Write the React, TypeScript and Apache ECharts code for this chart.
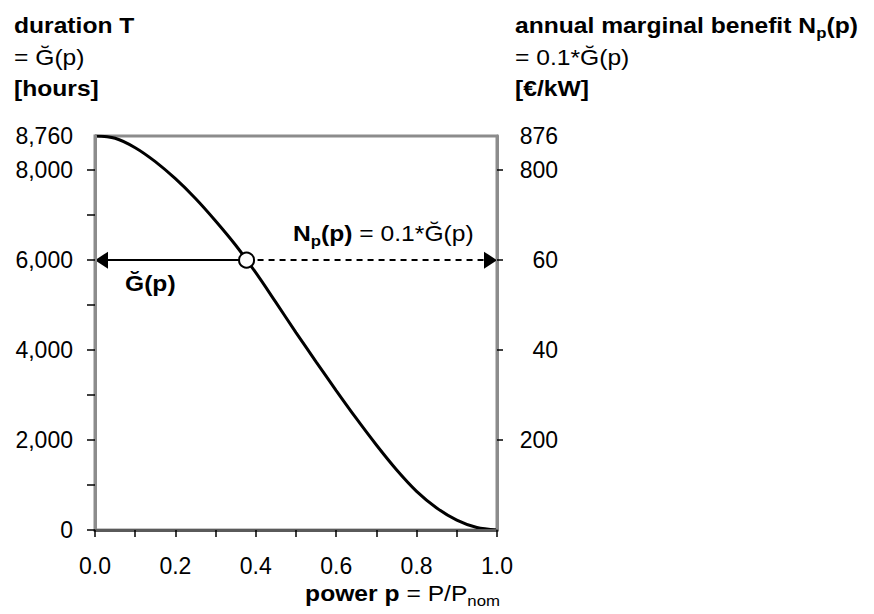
import React, { useEffect, useRef } from "react";
import * as echarts from "echarts";

// power p = P/Pnom
const P = [0, 0.05, 0.1, 0.15, 0.2, 0.25, 0.3, 0.35, 0.4, 0.45, 0.5, 0.55, 0.6, 0.65, 0.7, 0.75, 0.8, 0.85, 0.9, 0.95, 1.0];
// duration T = Ğ(p) [hours]
const T = [8760, 8710, 8500, 8190, 7810, 7370, 6870, 6330, 5720, 5060, 4390, 3740, 3100, 2480, 1890, 1340, 860, 490, 220, 55, 0];

const POINT_P = 0.377;
const POINT_T = 6000;

const LEFT_TICKS = [0, 1000, 2000, 3000, 4000, 5000, 6000, 7000, 8000];
const LEFT_LABELS = [0, 2000, 4000, 6000, 8000, 8760];
const X_TICKS = [0, 0.1, 0.2, 0.3, 0.4, 0.5, 0.6, 0.7, 0.8, 0.9, 1.0];
const X_LABELS = [0, 0.2, 0.4, 0.6, 0.8, 1.0];
const RIGHT_TICKS = [200, 400, 600, 800];
const RIGHT_LABEL_VALUES = [200, 400, 600, 800, 876];
const RIGHT_LABEL_TEXT = ["200", "40", "60", "800", "876"];

const FONT = "'Liberation Sans', Arial, Helvetica, sans-serif";
const SX = 1.12;
const GRID_LEFT = 95;
const GRID_RIGHT = 377;
const CHART_W = 874;
const ARROW_LEN = 13;
const ARROW_HALF_P = ARROW_LEN / 2 / (CHART_W - GRID_LEFT - GRID_RIGHT);

const rich: any = {
  b: { fontFamily: FONT, fontSize: 22, fontWeight: "bold", lineHeight: 30, fill: "#000" },
  n: { fontFamily: FONT, fontSize: 22, fontWeight: "normal", lineHeight: 30, fill: "#000" },
  bs: { fontFamily: FONT, fontSize: 15, fontWeight: "bold", lineHeight: 16, verticalAlign: "bottom", fill: "#000" },
  ns: { fontFamily: FONT, fontSize: 15, fontWeight: "normal", lineHeight: 16, verticalAlign: "bottom", fill: "#000" },
};

function txt(text: string, x: number, baseline: number, align: string = "left") {
  return {
    type: "text",
    x,
    y: baseline - 22.6,
    scaleX: SX,
    silent: true,
    style: {
      text,
      rich,
      align,
      verticalAlign: "top",
      fontFamily: FONT,
      fontSize: 22,
      fill: "#000",
    },
  };
}

export default function App() {
  const ref = useRef<HTMLDivElement>(null);

  useEffect(() => {
    if (!ref.current) return;
    const chart = echarts.init(ref.current, undefined, { renderer: "svg" });
    const curve = P.map((p, i) => [p, T[i]]);

    const option: any = {
      animation: false,
      backgroundColor: "#fff",
      textStyle: { fontFamily: FONT },
      grid: {
        left: GRID_LEFT,
        right: GRID_RIGHT,
        top: 136,
        bottom: 84,
        show: true,
        borderColor: "#8c8c8c",
        borderWidth: 3,
        backgroundColor: "transparent",
      },
      xAxis: {
        type: "value",
        min: 0,
        max: 1,
        interval: 0.1,
        z: 5,
        axisLine: { show: true, lineStyle: { color: "#5a5a5a", width: 3 } },
        axisTick: { show: true, length: 7, customValues: X_TICKS, lineStyle: { color: "#000", width: 1.5 } },
        axisLabel: {
          customValues: X_LABELS,
          formatter: (v: number) => v.toFixed(1),
          fontSize: 23,
          color: "#000",
          margin: 24,
          fontFamily: FONT,
        },
        splitLine: { show: false },
      },
      yAxis: [
        {
          type: "value",
          min: 0,
          max: 8760,
          interval: 1000,
          z: 5,
          axisLine: { show: true, lineStyle: { color: "#8c8c8c", width: 3 } },
          axisTick: { show: true, length: 8, customValues: LEFT_TICKS, lineStyle: { color: "#000", width: 1.5 } },
          axisLabel: {
            customValues: LEFT_LABELS,
            formatter: (v: number) => v.toLocaleString("en-US"),
            fontSize: 23,
            color: "#000",
            margin: 22,
            fontFamily: FONT,
          },
          splitLine: { show: false },
        },
        {
          type: "value",
          position: "right",
          min: 0,
          max: 876,
          interval: 200,
          z: 5,
          axisLine: { show: true, lineStyle: { color: "#8c8c8c", width: 3 } },
          axisTick: { show: true, length: 6, customValues: RIGHT_TICKS, lineStyle: { color: "#000", width: 1.5 } },
          axisLabel: {
            customValues: RIGHT_LABEL_VALUES,
            formatter: (v: number) => {
              const i = RIGHT_LABEL_VALUES.indexOf(v);
              return i >= 0 ? RIGHT_LABEL_TEXT[i] : "";
            },
            fontSize: 23,
            color: "#000",
            margin: 61,
            align: "right",
            fontFamily: FONT,
          },
          splitLine: { show: false },
        },
      ],
      series: [
        {
          type: "line",
          name: "G",
          data: curve,
          yAxisIndex: 0,
          smooth: 0.3,
          symbol: "none",
          z: 3,
          lineStyle: { color: "#000", width: 3 },
          silent: true,
          markLine: {
            silent: true,
            animation: false,
            label: { show: false },
            emphasis: { disabled: true },
            symbol: ["none", "triangle"],
            symbolSize: [17, ARROW_LEN],
            data: [
              [
                { coord: [POINT_P, POINT_T], lineStyle: { color: "#000", width: 2, type: "solid" }, itemStyle: { color: "#000" } },
                { coord: [ARROW_HALF_P, POINT_T] },
              ],
              [
                { coord: [POINT_P, POINT_T], lineStyle: { color: "#000", width: 2, type: [6, 5] }, itemStyle: { color: "#000" } },
                { coord: [1 - ARROW_HALF_P, POINT_T] },
              ],
            ],
          },
        },
        {
          type: "scatter",
          data: [[POINT_P, POINT_T]],
          yAxisIndex: 0,
          symbol: "circle",
          symbolSize: 15,
          z: 10,
          silent: true,
          itemStyle: { color: "#fff", borderColor: "#000", borderWidth: 2, opacity: 1 },
        },
      ],
      graphic: [
        txt("{b|duration T}", 14, 33),
        txt("{n|= Ğ(p)}", 14, 65),
        txt("{b|[hours]}", 14, 96),
        txt("{b|annual marginal benefit N}{bs|p}{b|(p)}", 515, 33),
        txt("{n|= 0.1*Ğ(p)}", 515, 65),
        txt("{b|[€/kW]}", 515, 96),
        txt("{b|Ğ(p)}", 125, 291.5),
        txt("{b|N}{bs|p}{b|(p)}{n| = 0.1*Ğ(p)}", 293, 241),
        txt("{b|power p}{n| = P/P}{ns|nom}", 500, 601, "right"),
      ],
    };

    chart.setOption(option);
    return () => chart.dispose();
  }, []);

  return (
    <div
      ref={ref}
      style={{ position: "fixed", left: 0, top: 0, width: 874, height: 614, background: "#fff" }}
    />
  );
}
